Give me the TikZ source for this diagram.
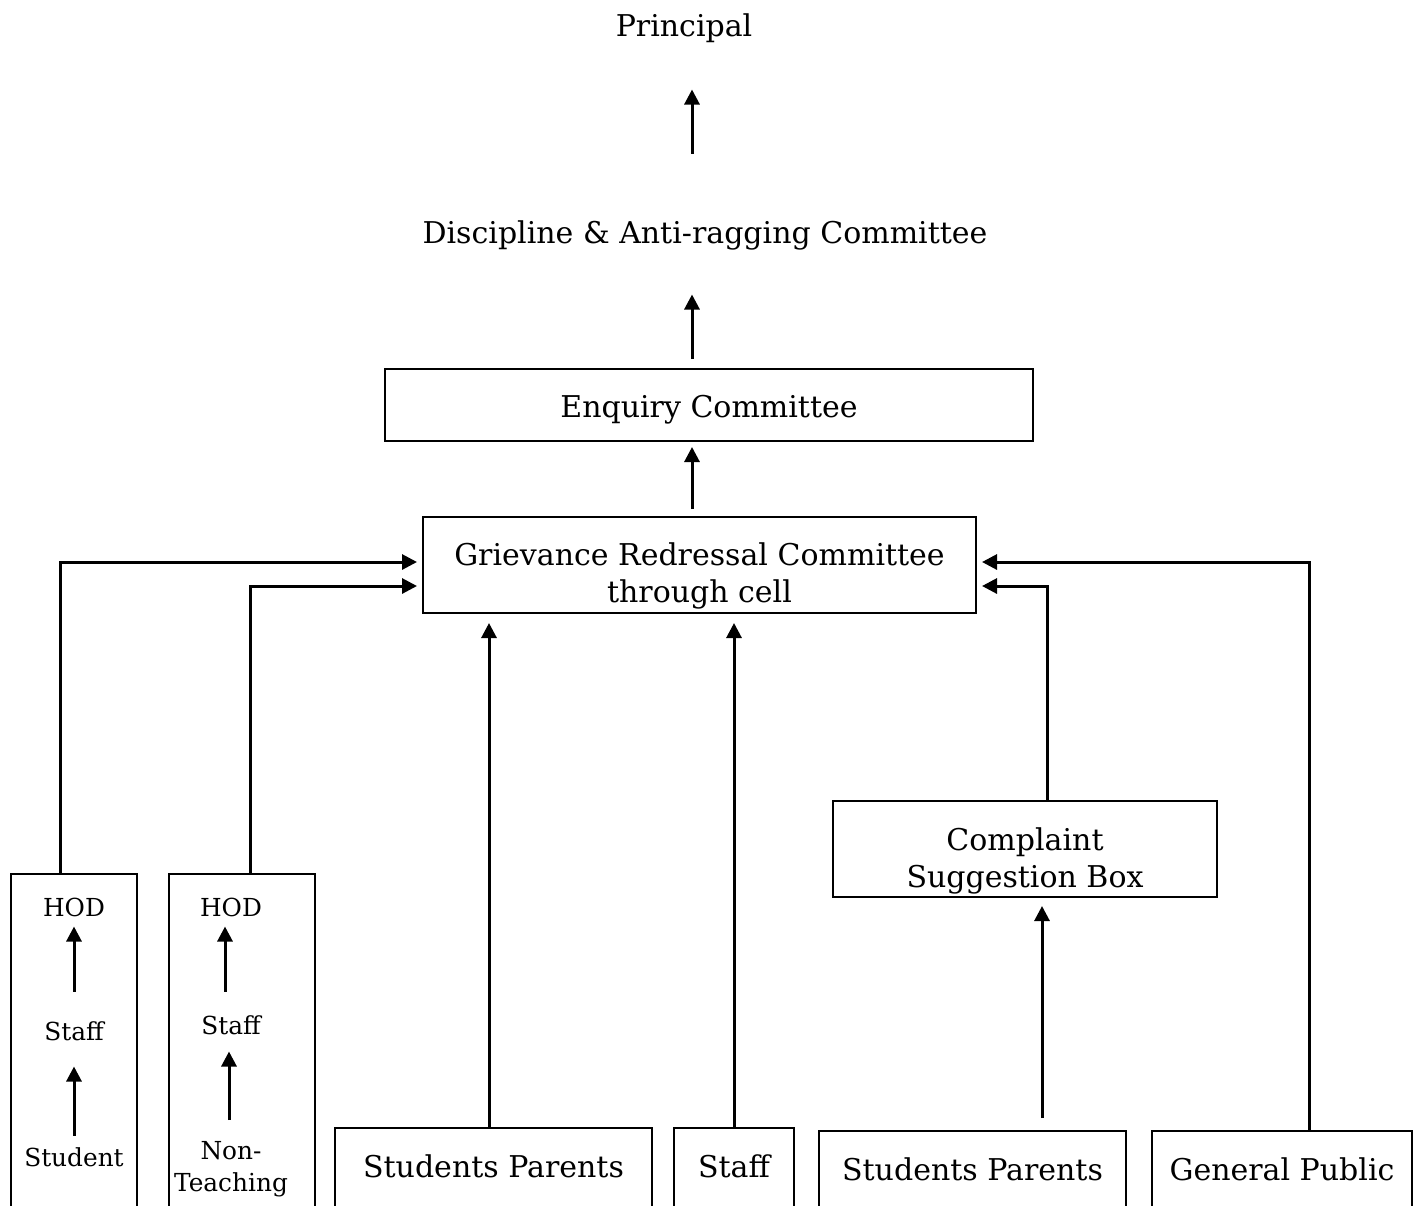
\documentclass[tikz,border=0pt]{standalone}
\usepackage{fontspec}
\setmainfont{DejaVu Serif}
\usetikzlibrary{arrows.meta}
\newcommand{\bigtxt}{\fontsize{15}{18.5}\selectfont}
\newcommand{\smalltxt}{\fontsize{12.4}{16}\selectfont}
\tikzset{
  plain/.style={inner sep=0pt, font=\bigtxt, text height=11pt, text depth=3pt},
  cell/.style={draw, line width=1pt, inner sep=0pt, font=\bigtxt, align=center},
  footbox/.style={cell, anchor=north, minimum height=48pt, text height=11pt, text depth=10pt},
  small/.style={inner sep=0pt, font=\smalltxt, text height=12pt, text depth=2.5pt},
}
\begin{document}
\begin{tikzpicture}[x=0.5pt,y=-0.5pt,line width=1.5pt,>={Triangle[length=7.5pt,width=7.5pt]}]
\useasboundingbox (0,0) rectangle (1416,1205);
% upper chain
\node[plain] (princ) at (684,28) {Principal};
\node[plain] (disc) at (705,235) {Discipline \& Anti-ragging Committee};
\node[cell, minimum width=324pt, minimum height=36pt] (enq) at (709,405) {\rule{0pt}{16pt}Enquiry Committee};
\node[cell, minimum width=276.5pt, minimum height=48pt] (griev) at (699.5,565) {\rule{0pt}{22pt}Grievance Redressal Committee\\ through cell};
\coordinate (axis) at (692,0);
\draw[->,shorten <=33pt,shorten >=23pt] (axis |- disc.north) -- (axis |- princ.south);
\draw[->,shorten <=4.5pt,shorten >=22pt] (axis |- enq.north) -- (axis |- disc.south);
\draw[->,shorten <=3.5pt,shorten >=2.5pt] (axis |- griev.north) -- (axis |- enq.south);
% sources
\node[cell, anchor=north, minimum width=63pt, minimum height=175pt] (colA) at (74,873) {};
\node[cell, anchor=north, minimum width=73pt, minimum height=175pt] (colB) at (242,873) {};
\node[footbox, minimum width=158.5pt] (sp1) at (493.5,1127) {Students Parents};
\node[footbox, minimum width=60pt] (stf) at (734,1127) {Staff};
\node[footbox, minimum width=153.5pt] (sp2) at (972.5,1130) {Students Parents};
\node[footbox, minimum width=130pt] (pub) at (1282,1130) {General Public};
\node[cell, minimum width=192pt, minimum height=48pt] (sbox) at (1025,849) {\rule{0pt}{23pt}Complaint\\ Suggestion Box};
% inside the two columns
\node[small] (hodA) at (74,907) {HOD};
\node[small] (staffA) at (74,1031) {Staff};
\node[small] (studA) at (74,1157) {Student};
\node[small] (hodB) at (231,907) {HOD};
\node[small] (staffB) at (231,1025) {Staff};
\node[inner sep=0pt, font=\smalltxt, align=center, anchor=north] (ntB) at (231,1140) {Non-\\Teaching};
\draw[->,shorten <=11.75pt,shorten >=1.75pt] (staffA.north) -- (hodA.south);
\draw[->,shorten <=2.75pt,shorten >=9.75pt] (studA.north) -- (staffA.south);
\draw[->,shorten <=8.75pt,shorten >=1.75pt] ([xshift=-3pt]staffB.north) -- ([xshift=-3pt]hodB.south);
\draw[->,shorten <=10pt,shorten >=5.25pt] ([xshift=-1pt]ntB.north) -- ([xshift=-1pt]staffB.south);
% into the grievance cell
\coordinate (t1) at ([xshift=-2.25pt]sp1.north);
\coordinate (t3) at ([xshift=34.75pt]sp2.north);
\draw[->] ([xshift=-7pt]colA.north) |- ([yshift=1.5pt,xshift=-2.5pt]griev.west);
\draw[->] ([xshift=4pt]colB.north) |- ([yshift=-10.5pt,xshift=-2.5pt]griev.west);
\draw[->,shorten >=4.5pt] (t1) -- (t1 |- griev.south);
\draw[->,shorten >=4.5pt] (stf.north) -- (stf.north |- griev.south);
\draw[->,shorten <=6pt,shorten >=4pt] (t3) -- (t3 |- sbox.south);
\draw[->] ([xshift=11pt]sbox.north) |- ([yshift=-10.5pt,xshift=2.5pt]griev.east);
\draw[->] ([xshift=13.5pt]pub.north) |- ([yshift=1.5pt,xshift=2.5pt]griev.east);
\end{tikzpicture}
\end{document}
